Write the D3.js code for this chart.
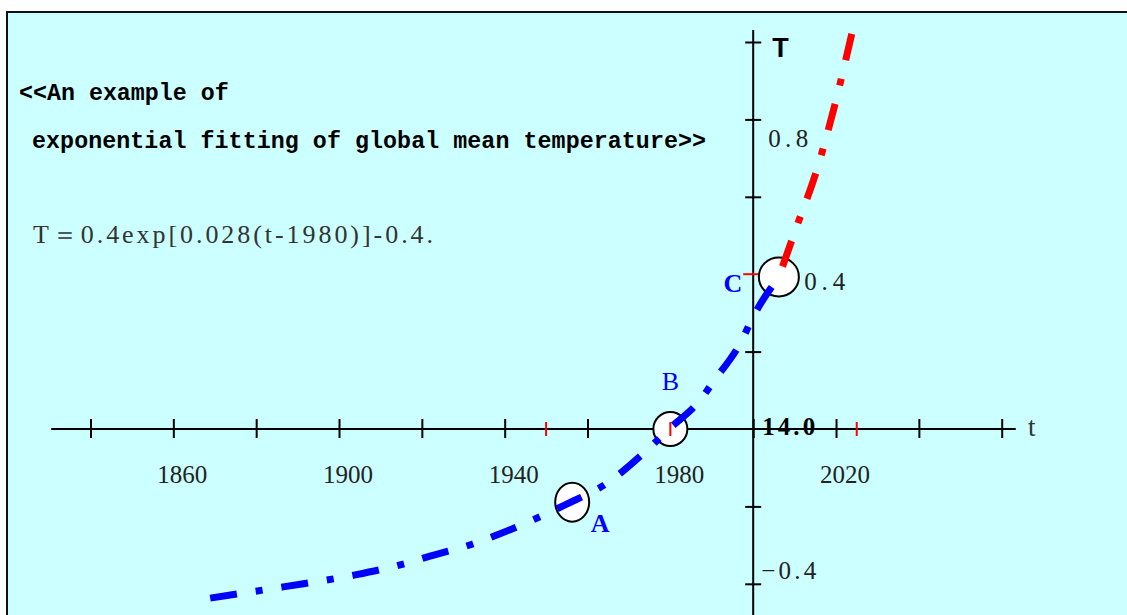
<!DOCTYPE html>
<html>
<head>
<meta charset="utf-8">
<script src="https://cdn.jsdelivr.net/npm/d3@7"></script>
<style>
body { margin: 0; background: #fff; }
svg { display: block; }
</style>
</head>
<body>
<div id="chart"></div>
<script>
'use strict';

// data
var tickYears = [1840, 1860, 1880, 1900, 1920, 1940, 1960, 1980, 2000, 2020, 2040, 2060];
var labelYears = [1860, 1900, 1940, 1980, 2020];
var redTickYears = [1950, 1980, 2025];
var tTicks = [-0.4, -0.2, 0.2, 0.6, 0.8, 1.0];
var redTTicks = [0.4];
var tLabels = ['0.8', '0.4', '-0.4'];
var tLabelValues = [0.8, 0.4, -0.4];

var blueYears = [1868.9, 1886.5, 1903.9, 1915.5, 1921.2, 1932.3, 1938.1, 1954.6, 1964.7, 1974.4, 1979.7, 1987.2, 1990.3, 1997.3, 1999.7, 2006.2];
var blueT     = [-0.437, -0.408, -0.377, -0.349, -0.331, -0.297, -0.274, -0.196, -0.140, -0.054, 0.0, 0.075, 0.121, 0.230, 0.284, 0.393];
var redYears  = [2006.2, 2010.8, 2014.9, 2019.7, 2023.8];
var redT      = [0.393, 0.532, 0.654, 0.837, 1.021];

var pointNames = ['A', 'B', 'C'];
var pointYears = [1956.3, 1980, 2006.2];
var pointT = [-0.189, 0.0, 0.393];

var myChart = {};
myChart.w = 1127;
myChart.h = 615;

myChart.x = d3.scaleLinear().domain([1840, 2060]).range([90.5, 1001.7]);
myChart.y = d3.scaleLinear().domain([-0.4, 1.0]).range([583.8, 42]);

myChart.zip = function (xs, ys) {
    var out = [];
    for (var i = 0; i < xs.length; i++) {
        out.push({t: xs[i], v: ys[i]});
    }
    return out;
};

var svg = d3.select('#chart').append('svg')
    .attr('width', myChart.w)
    .attr('height', myChart.h);

// frame
svg.append('rect')
    .attr('x', 7).attr('y', 12)
    .attr('width', 1135).attr('height', 625)
    .attr('fill', '#ccffff')
    .attr('stroke', '#111')
    .attr('stroke-width', 2);

var x = myChart.x, y = myChart.y;

// x axis (ticks through the line)
var xAxisGroup = svg.append('g')
    .attr('transform', 'translate(0,' + y(0) + ')');
xAxisGroup.call(d3.axisBottom(x).tickValues(tickYears).tickSize(0).tickFormat(''));
xAxisGroup.select('.domain').remove();
xAxisGroup.selectAll('.tick line')
    .attr('y1', -10).attr('y2', 9)
    .attr('stroke', '#000').attr('stroke-width', 2);
xAxisGroup.append('line')
    .attr('x1', x(1830.5)).attr('x2', x(2063.4))
    .attr('y1', 0).attr('y2', 0)
    .attr('stroke', '#000').attr('stroke-width', 2);

// y axis at t = 2000
var yAxisGroup = svg.append('g')
    .attr('transform', 'translate(' + x(2000) + ',0)');
yAxisGroup.call(d3.axisLeft(y).tickValues(tTicks).tickSize(0).tickFormat(''));
yAxisGroup.select('.domain').remove();
yAxisGroup.selectAll('.tick line')
    .attr('x1', -8).attr('x2', 8)
    .attr('stroke', '#000').attr('stroke-width', 2);
yAxisGroup.append('line')
    .attr('x1', 0).attr('x2', 0)
    .attr('y1', y(1.031)).attr('y2', y(-0.5))
    .attr('stroke', '#000').attr('stroke-width', 2);
yAxisGroup.selectAll('line.red').data(redTTicks).enter()
    .append('line')
    .attr('class', 'red')
    .attr('x1', -10).attr('x2', 8)
    .attr('y1', function (d) { return y(d); })
    .attr('y2', function (d) { return y(d); })
    .attr('stroke', '#ff0000').attr('stroke-width', 2);

// marker circles
var pts = myChart.zip(pointYears, pointT);
var radii = [[17, 19.5], [17, 17], [20, 19.5]];
svg.selectAll('ellipse.mark').data(pts).enter()
    .append('ellipse')
    .attr('class', 'mark')
    .attr('cx', function (d) { return x(d.t); })
    .attr('cy', function (d) { return y(d.v); })
    .attr('rx', function (d, i) { return radii[i][0]; })
    .attr('ry', function (d, i) { return radii[i][1]; })
    .attr('fill', '#fff')
    .attr('stroke', '#000')
    .attr('stroke-width', 2);

// red ticks on x axis
svg.selectAll('line.redx').data(redTickYears).enter()
    .append('line')
    .attr('class', 'redx')
    .attr('x1', function (d) { return x(d); })
    .attr('x2', function (d) { return x(d); })
    .attr('y1', y(0) - 7).attr('y2', y(0) + 7)
    .attr('stroke', '#ff0000').attr('stroke-width', 2);

// curves
var line = d3.line()
    .x(function (d) { return x(d.t); })
    .y(function (d) { return y(d.v); })
    .curve(d3.curveMonotoneX);

svg.append('path')
    .attr('d', line(myChart.zip(blueYears, blueT)))
    .attr('fill', 'none')
    .attr('stroke', '#0000ff')
    .attr('stroke-width', 7)
    .attr('stroke-dasharray', '27,19,7,19');

// red drawn from the top down so the dash pattern ends on a dash at the top
svg.append('path')
    .attr('d', line(myChart.zip(redYears, redT).reverse()))
    .attr('fill', 'none')
    .attr('stroke', '#ff0000')
    .attr('stroke-width', 7)
    .attr('stroke-dasharray', '27,19,7,19');

// x labels
svg.selectAll('text.xl').data(labelYears).enter()
    .append('text')
    .attr('class', 'xl')
    .attr('x', function (d) { return x(d) + 9; })
    .attr('y', 483)
    .attr('text-anchor', 'middle')
    .attr('font-family', 'Liberation Serif, serif')
    .attr('font-size', 25)
    .attr('fill', '#222')
    .text(function (d) { return d; });

// y labels
var tLabelPos = {'0.8': [15, 28, 40], '0.4': [51, 16, 41], '-0.4': [8, -5, 55]};
svg.selectAll('text.yl').data(tLabels).enter()
    .append('text')
    .attr('class', 'yl')
    .attr('x', function (d) { return x(2000) + tLabelPos[d][0]; })
    .attr('y', function (d, i) { return y(tLabelValues[i]) + tLabelPos[d][1]; })
    .attr('textLength', function (d) { return tLabelPos[d][2]; })
    .attr('lengthAdjust', 'spacing')
    .attr('font-family', 'Liberation Serif, serif')
    .attr('font-size', 25)
    .attr('fill', '#222')
    .text(function (d) { return d.replace('-', '\u2212'); });

svg.append('text')
    .attr('x', x(2000) + 9).attr('y', y(0) + 6)
    .attr('textLength', 53).attr('lengthAdjust', 'spacing')
    .attr('font-family', 'Liberation Serif, serif')
    .attr('font-size', 25).attr('font-weight', 'bold')
    .attr('fill', '#000')
    .text('14.0');

svg.append('text')
    .attr('x', 1028).attr('y', 436)
    .attr('font-family', 'Liberation Serif, serif')
    .attr('font-size', 27)
    .attr('fill', '#333')
    .text('t');

svg.append('text')
    .attr('x', x(2000) + 19).attr('y', 57)
    .attr('font-family', 'Liberation Sans, Arial, sans-serif')
    .attr('font-size', 27).attr('font-weight', 'bold')
    .attr('fill', '#000')
    .text('T');

// point letters
var letterPos = [[28, 30], [0, -39], [-46, 15]];
svg.selectAll('text.pt').data(pts).enter()
    .append('text')
    .attr('class', 'pt')
    .attr('x', function (d, i) { return x(d.t) + letterPos[i][0]; })
    .attr('y', function (d, i) { return y(d.v) + letterPos[i][1]; })
    .attr('text-anchor', 'middle')
    .attr('font-family', 'Liberation Serif, serif')
    .attr('font-size', 26)
    .attr('font-weight', function (d, i) { return i === 1 ? 'normal' : 'bold'; })
    .attr('fill', '#0000ff')
    .text(function (d, i) { return pointNames[i]; });

// title and formula
svg.append('text')
    .attr('x', 19).attr('y', 100)
    .attr('font-family', 'Liberation Mono, monospace')
    .attr('font-size', 23.3).attr('font-weight', 'bold')
    .attr('fill', '#000')
    .text('<<An example of');

svg.append('text')
    .attr('x', 32).attr('y', 148)
    .attr('textLength', 674).attr('lengthAdjust', 'spacing')
    .attr('font-family', 'Liberation Mono, monospace')
    .attr('font-size', 23.3).attr('font-weight', 'bold')
    .attr('fill', '#000')
    .text('exponential fitting of global mean temperature>>');

svg.append('text')
    .attr('x', 33).attr('y', 243)
    .attr('textLength', 400).attr('lengthAdjust', 'spacing')
    .attr('font-family', 'Liberation Serif, serif')
    .attr('font-size', 26)
    .attr('fill', '#333')
    .text('T\uFF1D0.4exp[0.028(t-1980)]-0.4.');
</script>
</body>
</html>
